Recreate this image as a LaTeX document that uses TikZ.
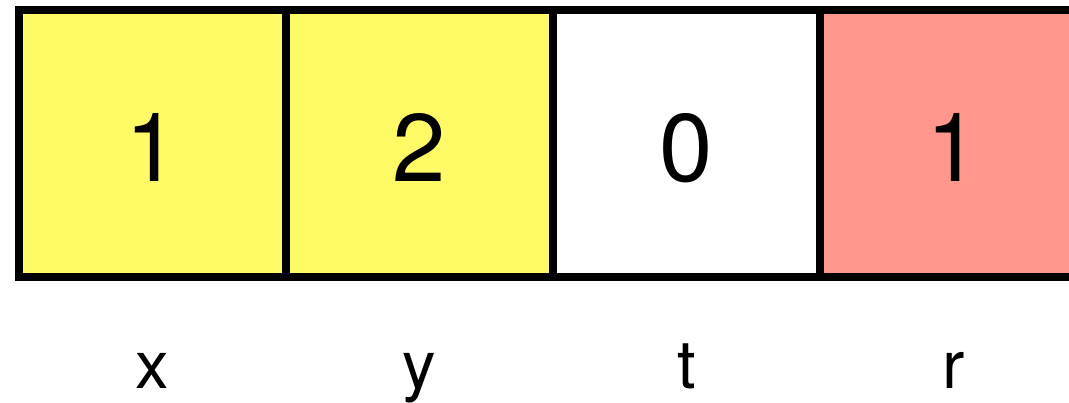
\documentclass[tikz,border=0pt]{standalone}
\usepackage{fontspec}
\setmainfont{TeX Gyre Heros}
\definecolor{cellyellow}{RGB}{255,251,102}
\definecolor{cellred}{RGB}{255,151,140}
\begin{document}
\begin{tikzpicture}[x=1pt,y=1pt,
  cell/.style={draw=black,line width=8pt,minimum width=267pt,minimum height=266.5pt,inner sep=0pt,outer sep=0pt},
  digit/.style={anchor=base,font=\fontsize{96}{96}\selectfont,inner sep=0pt},
  varlabel/.style={anchor=base,font=\fontsize{67}{67}\selectfont,inner sep=0pt}]
\useasboundingbox (0,0) rectangle (1069,403);
\clip (0,0) rectangle (1069,403);
\fill[white] (0,0) rectangle (1069,403);
\node[cell,fill=cellyellow] (c1) at (152.5,259.25) {};
\node[cell,fill=cellyellow] (c2) at (419.5,259.25) {};
\node[cell,fill=white] (c3) at (686.5,259.25) {};
\node[cell,fill=cellred] (c4) at (953.5,259.25) {};
\node[digit] (d1) at ([yshift=-38pt]c1.center) {1};
\node[digit] (d2) at ([yshift=-38pt]c2.center) {2};
\node[digit] (d3) at ([yshift=-38pt]c3.center) {0};
\node[digit] (d4) at ([yshift=-38pt]c4.center) {1};
\node[varlabel] (l1) at (152.5,14) {x};
\node[varlabel] (l2) at (419.5,14) {y};
\node[varlabel] (l3) at (686.5,14) {t};
\node[varlabel] (l4) at (953.5,14) {r};
\end{tikzpicture}
\end{document}
